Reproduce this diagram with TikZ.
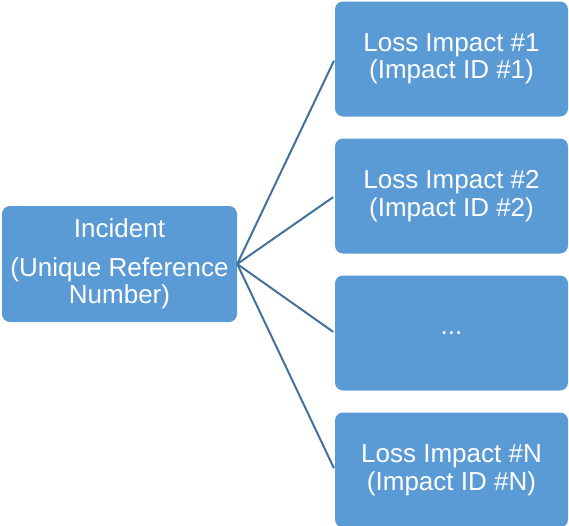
\documentclass[tikz,border=0pt]{standalone}
\usepackage{fontspec}
\setmainfont{Liberation Sans}
\definecolor{boxblue}{HTML}{5B9BD5}
\definecolor{lineblue}{HTML}{41719C}
\begin{document}
\begin{tikzpicture}[x=1pt,y=1pt,
  bluebox/.style={fill=boxblue, draw=none, rounded corners=8pt, text=white,
    align=center, inner sep=0pt, font=\fontsize{26}{27.5}\selectfont},
  impactbox/.style={bluebox, minimum width=233pt, minimum height=115pt},
  link/.style={draw=lineblue, line width=2pt, shorten >=2pt}]
\useasboundingbox (0,0) rectangle (569,-525);
\node[bluebox, minimum width=235pt, minimum height=116pt] (inc) at (119.5,-264)
  {Incident\\[11pt](Unique Reference\\Number)};
\node[impactbox] (b1) at (451.5,-59) {Loss Impact \#1\\(Impact ID \#1)};
\node[impactbox] (b2) at (451.5,-196) {Loss Impact \#2\\(Impact ID \#2)};
\node[impactbox] (b3) at (451.5,-333) {...};
\node[impactbox] (b4) at (451.5,-470) {Loss Impact \#N\\(Impact ID \#N)};
\foreach \b in {b1,b2,b3,b4}
  \draw[link] (inc.east) -- (\b.west);
\end{tikzpicture}
\end{document}
